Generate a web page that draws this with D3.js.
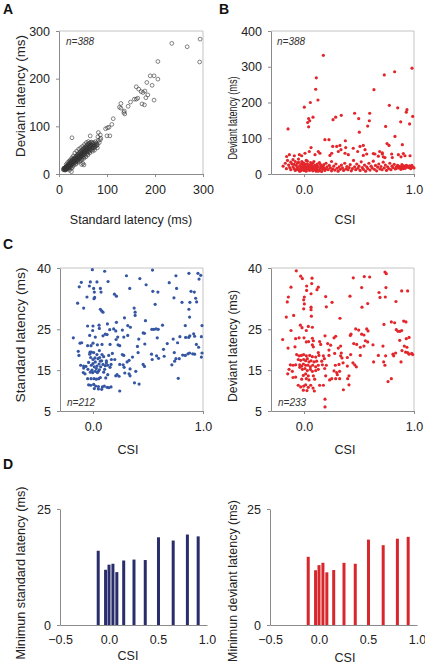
<!DOCTYPE html>
<html><head><meta charset="utf-8">
<script src="https://cdn.jsdelivr.net/npm/d3@7"></script>
<style>body{margin:0;background:#fff} svg{display:block;font-family:"Liberation Sans",Arial,sans-serif}</style>
</head><body><svg id="c" width="425" height="672"></svg>
<script>
// ---------- DATA ----------
// Panel A: [standard latency, deviant latency] (ms)
const pointsA = [
[235,274],[267,267],[294,283],[293,235],[206,236],[190,206],[198,206],[206,199],[183,192],[194,186],[161,183],[166,178],[171,173],[175,171],[179,174],[181,160],[185,166],[198,155],[157,157],[161,157],[164,159],[149,151],[173,147],[178,145],[144,142],[129,148],[126,140],[129,138],[136,132],[135,129],[137,126],[113,116],[110,104],[97,95],[101,97],[104,98],[100,80],[106,80],[82,87],[86,82],[81,78],[87,75],[65,80],[27,76],[26,5],[52,19],
[10,10],[11,9],[12,11],[12,13],[13,10],[13,12],[14,14],[14,11],[15,13],[15,16],[16,12],[16,15],[17,14],[17,18],[18,16],[18,13],[19,19],[19,15],[20,17],[20,21],[21,18],[21,14],[22,20],[22,24],[23,19],[23,22],[24,17],[24,26],[25,21],[25,24],[26,20],[26,28],[27,23],[27,25],[28,22],[28,30],[29,26],[29,24],[30,28],[30,32],[31,25],[31,30],[32,27],[32,34],[33,29],[33,31],[34,33],[34,26],[35,36],[35,30],[36,32],[36,28],[37,38],[37,34],[38,31],[38,40],[39,35],[39,29],[40,37],[40,42],[41,33],[41,39],[42,36],[42,44],[43,40],[43,31],[44,38],[44,46],[45,42],[45,35],[46,48],[46,40],[47,44],[47,37],[48,50],[48,42],[49,46],[49,39],[50,52],[50,44],[51,48],[51,40],[52,54],[52,46],[53,50],[53,42],[54,56],[54,47],[55,52],[55,44],[56,58],[56,49],[57,54],[57,46],[58,60],[58,51],[59,56],[59,48],[60,62],[60,53],[61,57],[61,47],[62,64],[62,54],[63,59],[63,50],[64,65],[64,56],[65,60],[65,52],[66,66],[66,57],[67,62],[68,55],[68,67],[69,60],[70,64],[70,52],[71,58],[72,66],[73,61],[74,55],[75,63],[76,68],[77,59],[78,65],[80,62],[82,70],[84,66],[86,72],
[26,12],[22,8],[28,14],[30,18],[34,20],[36,22],[40,25],[44,28],[48,30],[52,33],[56,36],[60,40],[64,44],[70,48],[74,50],[80,55],[33,44],[37,48],[41,52],[45,55],[49,58],[53,62],[57,66],[61,68],[15,20],[18,24],[21,27],[24,30],[27,34],[30,38],[47,20],[50,22],[16,10],[20,12],[24,14],[11,12],[13,8],[9,9],[10,12],[14,9],[19,11],[23,16],[27,19],[31,22],[35,25],[39,27],[43,34],[47,32],[51,36],[55,39],[59,43],[63,47],[67,50],[71,55],[75,58],[79,60]
];
// Panel B: [CSI, deviant latency]
const pointsB = [
[-0.145,126],[0.176,332],[0.112,269],[0.106,237],[0.127,207],[0.058,200],[0.003,187],[0.082,159],[0.042,155],[0.033,144],[0.042,132],[0.052,149],[0.19,96],[0.227,96],[0.264,152],[0.288,159],[0.339,164],[0.376,93],[0.46,170],[0.497,155],[0.503,117],[0.579,134],[0.594,149],[0.597,170],[0.636,236],[0.73,277],[0.824,286],[0.982,296],[0.742,133],[0.776,192],[0.852,185],[0.93,173],[0.936,180],[0.879,146],[0.96,140],[0.988,161],[0.827,105],[0.755,85],[0.773,80],[0.894,82],[0.688,63],[0.712,59],
[0.064,74],[0.048,63],[0.009,58],[-0.021,51],[-0.042,54],[-0.088,51],[-0.133,54],[-0.158,49],[0.13,63],[0.145,58],[0.1,54],[0.261,77],[0.297,77],[0.327,80],[0.379,74],[0.336,68],[0.312,63],[0.252,58],[0.236,52],[0.373,58],[0.403,54],[0.448,72],[0.488,63],[0.509,77],[0.539,80],[0.555,68],[0.539,52],[0.57,56],[0.63,57],[0.645,56],[0.676,50],[0.712,56],[0.721,48],[0.736,46],[0.797,56],[0.803,46],[0.858,54],[0.882,48],[0.903,57],[0.918,51],[0.964,51],
[-0.19,22],[-0.17,30],[-0.16,15],[-0.15,38],[-0.14,25],[-0.13,18],[-0.12,33],[-0.12,12],[-0.11,28],[-0.1,20],[-0.1,40],[-0.09,15],[-0.08,35],[-0.08,10],[-0.07,24],[-0.06,18],[-0.06,30],[-0.05,12],[-0.05,42],[-0.04,22],[-0.04,8],[-0.03,16],[-0.03,28],[-0.02,35],[-0.02,20],[-0.01,12],[-0.01,25],[0.0,18],[0.0,30],[0.0,10],[0.01,22],[0.01,15],[0.02,38],[0.02,8],[0.03,20],[0.03,28],[0.04,13],[0.04,17],[0.05,24],[0.05,10],[0.06,32],[0.06,19],[0.07,14],[0.07,26],[0.08,9],[0.08,21],[0.09,16],[0.09,35],[0.1,12],[0.1,24],[0.11,18],[0.11,8],[0.12,28],[0.12,14],[0.13,20],[0.14,10],[0.14,32],[0.15,16],[0.16,22],[0.16,7],[0.17,13],[0.18,26],[0.18,18],[0.19,10],[0.2,30],[0.2,15],[0.21,20],[0.22,12],[0.23,24],[0.24,17],[0.25,9],[0.25,35],[0.26,14],[0.27,22],[0.28,11],[0.29,28],[0.3,16],[0.31,8],[0.32,20],[0.33,13],[0.34,25],[0.35,17],[0.36,10],[0.37,30],[0.38,14],[0.39,21],[0.4,12],[0.41,18],[0.42,26],[0.43,9],[0.44,15],[0.45,38],[0.46,20],[0.47,12],[0.48,28],[0.49,16],[0.5,22],[0.51,10],[0.52,34],[0.53,18],[0.54,13],[0.55,25],[0.56,8],[0.57,20],[0.58,15],[0.59,30],[0.6,11],[0.61,22],[0.62,17],[0.63,36],[0.64,13],[0.65,24],[0.66,9],[0.67,19],[0.68,28],[0.69,14],[0.7,21],[0.71,12],[0.72,33],[0.73,17],[0.74,25],[0.75,10],[0.76,20],[0.77,15],[0.78,30],[0.79,12],[0.8,22],[0.81,18],[0.82,27],[0.83,14],[0.84,20],[0.85,24],[0.86,17],[0.87,21],[0.88,13],[0.89,26],[0.9,19],[0.91,22],[0.92,16],[0.93,24],[0.94,20],[0.95,18],[0.96,23],[0.97,15],[0.98,21],[0.99,19],[1.0,17],
[-0.09,27],[-0.07,12],[-0.05,33],[-0.03,9],[-0.01,31],[0.01,27],[0.02,14],[0.04,25],[0.06,12],[0.08,30],[0.1,17],[0.12,22],[0.13,8],[0.15,26],[0.17,19],[0.03,36],[-0.02,14],[0.07,20],[0.86,22],[0.88,19],[0.9,23],[0.92,20],[0.94,22],[0.96,19],[0.98,24],[0.84,16],[0.9,15]
];
// Panel C left: [CSI, standard latency]
const pointsCStd = [
[-0.006,39.6],[0.106,39.2],[0.541,39.5],[0.954,38.7],[-0.106,36.5],[-0.125,35.4],[-0.024,36.6],[0.036,36.6],[0.137,36.7],[0.304,38.1],[0.426,37.4],[0.693,36.4],[0.754,38.1],[0.872,38.7],[0.979,38.2],[0.964,37.3],[0.483,35.9],[0.76,35.0],[0.006,35.0],[0.067,35.0],[0.012,34.1],[0.073,34.1],[-0.033,35.6],[0.334,35.0],[0.544,34.3],[0.59,34.1],[0.891,34.3],[0.921,34.1],[-0.055,32.9],[0.009,32.5],[0.015,32.8],[0.195,33.6],[0.213,33.1],[0.736,32.7],[0.933,32.6],[-0.14,31.4],[-0.085,30.2],[0.565,31.1],[0.809,31.6],[0.881,31.6],[0.942,31.7],[0.067,29.9],[0.079,29.5],[0.091,29.2],[0.374,30.2],[0.383,29.2],[0.383,28.4],[0.872,29.9],[0.878,28.0],[0.286,27.8],[0.131,26.3],[0.213,26.7],[-0.049,25.8],[0.0,25.8],[0.055,26.0],[0.316,25.9],[0.477,27.1],[0.632,26.0],[0.839,25.9],[0.991,25.9],[0.058,25.2],[-0.003,24.7],[0.152,24.9],[0.188,25.1],[0.267,24.8],[0.34,25.5],[0.535,25.0],[0.553,25.0],[0.574,25.1],[0.593,25.0],[0.456,24.1],[0.468,24.0],[0.915,23.9],[0.924,23.3],[0.985,23.2],[0.112,23.8],[0.207,24.6],[-0.179,22.9],[-0.03,23.5],[0.021,23.1],[0.091,23.4],[0.128,23.7],[0.21,22.5],[0.225,23.1],[0.28,23.1],[0.316,23.5],[0.416,22.6],[0.584,22.9],[0.471,21.4],[0.729,22.6],[0.79,23.2],[0.842,23.0],[0.87,23.0],[0.88,23.4],[-0.118,21.6],[-0.103,21.7],[-0.049,21.0],[-0.018,21.0],[0.0,21.6],[0.04,21.2],[0.082,21.3],[0.155,21.3],[0.228,21.2],[0.243,21.0],[0.404,20.8],[0.675,21.5],[0.769,21.7],[0.94,21.3],[-0.134,19.6],[-0.027,19.4],[-0.015,19.4],[0.058,19.8],[0.176,19.1],[0.267,18.8],[0.28,18.6],[0.41,19.3],[0.641,20.1],[0.739,19.3],[0.815,18.7],[0.839,18.6],[0.863,19.0],[0.878,19.2],[0.906,19.0],[0.991,19.2],[0.96,20.6],[-0.128,18.6],[-0.03,18.9],[0.006,19.3],[0.036,18.8],[0.082,18.8],[0.097,18.3],[0.143,18.6],[0.532,18.9],[0.578,18.5],[0.647,18.4],[0.924,18.9],[0.985,18.2],[-0.021,18.1],[0.018,18.0],[0.046,17.8],[0.061,18.1],[0.079,17.3],[0.122,17.3],[0.167,17.6],[0.198,17.6],[0.31,17.0],[0.328,17.4],[0.359,18.2],[0.538,17.6],[0.596,17.9],[0.754,17.8],[0.784,17.8],[0.243,16.4],[0.274,16.3],[-0.04,16.9],[0.0,16.6],[-0.112,16.2],[-0.085,16.0],[-0.064,15.9],[-0.015,16.2],[0.012,15.8],[0.036,16.0],[0.055,16.5],[0.091,16.4],[0.112,16.1],[0.164,16.4],[0.021,17.0],[0.0,17.6],[0.067,17.2],[-0.085,15.5],[-0.046,15.2],[-0.009,15.0],[0.03,15.4],[0.058,15.1],[0.106,15.2],[0.155,15.7],[0.283,15.7],[0.337,15.3],[0.456,16.4],[0.468,15.9],[0.717,16.3],[0.742,17.2],[-0.088,14.4],[-0.073,14.1],[-0.024,14.5],[-0.003,14.4],[0.021,14.7],[0.04,14.4],[0.097,14.5],[0.134,13.9],[0.207,13.6],[0.219,13.9],[0.237,13.5],[0.289,14.3],[0.328,14.1],[0.337,13.6],[0.389,14.7],[0.067,13.2],[0.116,13.1],[-0.049,12.9],[-0.018,12.9],[0.009,12.9],[0.03,12.8],[0.052,12.9],[0.377,11.9],[0.419,11.6],[0.775,13.0],[-0.04,11.4],[-0.021,11.3],[0.006,11.5],[0.024,11.1],[0.049,11.0],[0.085,10.9],[0.103,11.1],[0.143,10.7],[0.164,10.9],[0.012,10.5],[0.049,10.4],[0.079,10.3],[0.128,10.8],[0.243,9.9],[0.049,14.7],[0.07,15.8],[0.122,16.8],[0.134,16.2]
];
// Panel C right: [CSI, deviant latency]
const pointsCDev = [
[-0.07,39.3],[-0.03,38.0],[-0.015,37.4],[0.073,37.5],[0.07,36.2],[-0.118,35.3],[0.024,35.6],[0.13,35.3],[0.118,34.7],[0.448,37.6],[0.548,37.9],[0.597,37.8],[0.736,39.0],[0.748,38.6],[0.524,35.2],[0.745,35.2],[0.888,34.4],[0.942,34.4],[0.024,34.5],[0.064,33.7],[-0.142,32.9],[-0.152,31.7],[0.003,32.9],[0.197,33.0],[0.418,33.1],[0.682,34.0],[0.691,32.8],[0.739,32.9],[-0.003,32.2],[0.003,31.2],[0.255,31.6],[0.203,30.5],[0.579,31.3],[0.527,30.4],[0.836,31.8],[0.064,30.4],[0.064,29.8],[-0.003,30.0],[-0.094,28.4],[-0.161,28.0],[0.067,28.2],[0.327,27.7],[0.727,26.2],[0.794,26.8],[0.824,26.6],[0.906,27.0],[0.927,26.8],[-0.033,26.0],[-0.018,25.4],[0.021,24.7],[0.039,25.7],[0.076,25.5],[-0.118,24.7],[0.47,25.1],[0.497,24.8],[0.57,25.1],[0.582,24.6],[0.839,24.9],[0.855,24.5],[0.873,24.5],[0.888,24.7],[0.427,23.8],[0.421,23.5],[0.273,22.9],[0.288,23.3],[0.191,23.4],[-0.194,22.5],[-0.076,22.7],[-0.045,22.9],[0.0,22.9],[0.021,21.9],[0.042,22.0],[0.076,22.8],[0.085,22.2],[0.076,21.2],[0.085,20.7],[0.142,22.0],[0.152,21.3],[0.215,21.5],[0.242,21.1],[0.333,20.9],[0.452,21.5],[0.479,21.3],[0.524,23.8],[0.545,23.6],[0.558,22.2],[0.579,21.9],[0.512,20.6],[0.545,20.9],[0.627,21.2],[0.718,20.9],[0.87,22.3],[0.93,22.7],[0.955,23.0],[0.912,20.9],[0.936,20.6],[0.891,19.8],[0.924,19.4],[0.942,19.3],[0.955,18.9],[0.979,19.1],[0.988,18.8],[-0.145,20.4],[-0.082,20.7],[0.312,20.4],[0.227,19.9],[0.136,18.6],[0.13,19.3],[0.176,18.5],[0.185,17.8],[0.227,18.6],[0.279,19.1],[0.339,19.2],[0.333,18.5],[0.345,18.0],[0.394,18.1],[0.424,18.8],[0.512,18.6],[0.676,18.6],[0.742,18.5],[0.809,18.9],[0.815,18.5],[0.833,19.2],[0.633,17.0],[0.724,17.0],[0.736,16.2],[0.882,17.0],[0.764,12.2],[0.794,12.9],[-0.067,18.8],[-0.045,18.5],[-0.024,18.6],[-0.003,18.8],[0.021,18.5],[0.052,18.6],[0.076,18.3],[0.106,18.2],[-0.052,17.6],[-0.03,17.4],[-0.003,17.6],[0.015,17.3],[0.03,17.8],[0.045,17.0],[0.064,17.3],[0.091,17.0],[0.115,17.2],[0.161,17.2],[-0.124,16.3],[-0.1,16.2],[-0.076,16.3],[-0.039,16.3],[-0.021,16.0],[-0.006,16.5],[0.015,16.2],[0.036,16.2],[0.058,15.8],[0.079,16.2],[0.106,15.8],[0.13,16.2],[0.167,16.3],[0.203,16.2],[0.285,16.2],[0.318,16.4],[0.355,16.8],[0.445,16.8],[0.461,16.3],[0.476,15.8],[-0.136,15.2],[-0.106,14.7],[-0.039,15.7],[-0.015,15.2],[0.009,15.4],[0.03,14.9],[0.058,15.2],[0.076,14.7],[0.106,14.9],[0.13,15.2],[0.188,15.4],[0.273,14.8],[0.297,14.4],[0.324,14.7],[0.303,13.9],[0.394,16.0],[-0.148,14.1],[-0.006,13.7],[0.015,14.1],[0.039,13.6],[0.085,13.6],[-0.1,13.2],[-0.076,13.3],[-0.021,12.8],[0.021,12.9],[0.045,12.6],[0.097,12.8],[0.197,13.6],[0.252,12.9],[0.233,12.6],[0.288,12.9],[0.324,12.9],[0.409,13.6],[0.397,12.9],[-0.052,11.3],[-0.03,10.9],[-0.003,11.1],[0.015,11.4],[0.039,10.8],[0.061,11.3],[0.082,10.6],[0.094,9.9],[-0.006,10.1],[0.027,10.0],[0.142,11.3],[0.176,11.3],[0.358,10.2],[0.409,11.4],[0.191,7.9],[0.191,6.0]
];
// Panel D: CSI bins and minimum latencies (ms)
const csiBins = [-0.11, -0.035, 0.0, 0.04, 0.08, 0.15, 0.255, 0.37, 0.505, 0.655, 0.80, 0.91];
const minStd = [16.0, 11.9, 13.0, 13.2, 11.4, 13.9, 14.1, 14.0, 18.9, 18.2, 19.5, 19.1];
const minDev = [14.7, 11.8, 12.9, 13.4, 11.35, 11.85, 13.4, 13.2, 18.4, 17.2, 18.6, 19.0];
const ticksA = [0, 100, 200, 300];
const ticksB = [0, 100, 200, 300, 400];
const ticksCSI = [0, 1];
const ticksCy = [5, 15, 25, 40];
const ticksDx = [-0.5, 0, 0.5, 1.0];
const ticksDy = [0, 25];

// ---------- DRAW ----------
const svg = d3.select('#c');
const AX = '#8a8a8a', BOX = '#c4c4c4', TXT = '#222';

function axes(g, xs, ys, xt, yt, xf, yf, tick, box) {
  const [x0, x1] = xs.range(), [y1, y0] = ys.range();
  if (box) {
    g.append('path').attr('d', `M${x0},${y0}H${x1}V${y1}`).attr('fill', 'none').attr('stroke', BOX).attr('stroke-width', 1);
  }
  const ax = g.append('g').attr('transform', `translate(0,${y1})`)
    .call(d3.axisBottom(xs).tickValues(xt).tickFormat(xf).tickSize(tick).tickSizeOuter(0).tickPadding(tick ? 8 : 10));
  const ay = g.append('g').attr('transform', `translate(${x0},0)`)
    .call(d3.axisLeft(ys).tickValues(yt).tickFormat(yf).tickSize(3).tickSizeOuter(0).tickPadding(6));
  [ax, ay].forEach(a => {
    a.select('.domain').attr('stroke', AX);
    a.selectAll('.tick line').attr('stroke', AX);
    a.selectAll('text').attr('fill', TXT).attr('font-size', 12.5).attr('font-family', '"Liberation Sans",Arial,sans-serif');
  });
}
function ylabel(text, x, cy, len) {
  svg.append('text').attr('transform', `translate(${x},${cy}) rotate(-90)`)
    .attr('text-anchor', 'middle').attr('font-size', 12.5).attr('fill', TXT)
    .attr('textLength', len).attr('lengthAdjust', 'spacingAndGlyphs').text(text);
}
function xlabel(text, cx, y) {
  svg.append('text').attr('x', cx).attr('y', y).attr('text-anchor', 'middle')
    .attr('font-size', 12.5).attr('fill', TXT).text(text);
}
function plabel(text, x, y) {
  svg.append('text').attr('x', x).attr('y', y).attr('font-size', 14).attr('font-weight', 'bold').attr('fill', '#111').text(text);
}
function ntext(text, x, y) {
  const t = svg.append('text').attr('x', x).attr('y', y).attr('font-size', 10).attr('font-style', 'italic').attr('fill', '#333');
  t.append('tspan').text(text);
}
const f1 = d3.format('.1f'), fd = d3.format('d');

// Panel A
{
  const xs = d3.scaleLinear().domain([0, 300]).range([59, 203]);
  const ys = d3.scaleLinear().domain([0, 300]).range([174, 31]);
  const g = svg.append('g');
  axes(g, xs, ys, ticksA, ticksA, fd, fd, 3, true);
  g.append('g').selectAll('circle').data(pointsA).join('circle')
    .attr('cx', d => xs(d[0])).attr('cy', d => ys(d[1])).attr('r', 1.9)
    .attr('fill', 'none').attr('stroke', '#333').attr('stroke-width', 0.6);
  ntext('n=388', 66, 45);
}
// Panel B
{
  const xs = d3.scaleLinear().domain([-0.3, 1.0]).range([271, 414]);
  const ys = d3.scaleLinear().domain([0, 400]).range([174, 31]);
  const g = svg.append('g');
  axes(g, xs, ys, ticksCSI, ticksB, f1, fd, 3, true);
  g.append('g').selectAll('circle').data(pointsB).join('circle')
    .attr('cx', d => xs(d[0])).attr('cy', d => ys(d[1])).attr('r', 1.6).attr('fill', '#e3262b');
  ntext('n=388', 277, 45);
}
// Panel C left
{
  const xs = d3.scaleLinear().domain([-0.3, 1.0]).range([60, 203]);
  const ys = d3.scaleLinear().domain([5, 40]).range([411, 268]);
  const g = svg.append('g');
  axes(g, xs, ys, ticksCSI, ticksCy, f1, fd, 3, true);
  g.append('g').selectAll('circle').data(pointsCStd).join('circle')
    .attr('cx', d => xs(d[0])).attr('cy', d => ys(d[1])).attr('r', 1.6).attr('fill', '#3556a3');
  ntext('n=212', 67, 406);
}
// Panel C right
{
  const xs = d3.scaleLinear().domain([-0.3, 1.0]).range([271, 414]);
  const ys = d3.scaleLinear().domain([5, 40]).range([411, 268]);
  const g = svg.append('g');
  axes(g, xs, ys, ticksCSI, ticksCy, f1, fd, 3, true);
  g.append('g').selectAll('circle').data(pointsCDev).join('circle')
    .attr('cx', d => xs(d[0])).attr('cy', d => ys(d[1])).attr('r', 1.6).attr('fill', '#e3262b');
  ntext('n=233', 278, 406);
}
// Panel D
function bars(x0, data, color) {
  const xs = d3.scaleLinear().domain([-0.5, 1.0]).range([x0, x0 + 147]);
  const ys = d3.scaleLinear().domain([0, 25]).range([625, 509]);
  const g = svg.append('g');
  g.append('g').selectAll('rect').data(csiBins).join('rect')
    .attr('x', d => xs(d) - 1.5).attr('width', 3)
    .attr('y', (d, i) => ys(data[i])).attr('height', (d, i) => ys(0) - ys(data[i]))
    .attr('fill', color);
  axes(g, xs, ys, ticksDx, ticksDy, f1, fd, 0, false);
}
bars(60, minStd, '#2a2d6c');
bars(270, minDev, '#d8262c');

// Labels
plabel('A', 3, 14); plabel('B', 219, 14); plabel('C', 3, 249); plabel('D', 3, 469);
ylabel('Deviant latency (ms)', 25, 96, 122);
ylabel('Deviant latency (ms)', 237, 118, 83);
ylabel('Standard latency (ms)', 25, 335, 135);
ylabel('Deviant latency (ms)', 237, 346, 112);
ylabel('Minimun standard latency (ms)', 25, 573, 173);
ylabel('Minimun deviant latency (ms)', 237, 581, 162);
xlabel('Standard latency (ms)', 131, 224);
xlabel('CSI', 345, 224);
xlabel('CSI', 128, 454);
xlabel('CSI', 345, 454);
xlabel('CSI', 128, 660);
xlabel('CSI', 345, 662);
</script></body></html>
